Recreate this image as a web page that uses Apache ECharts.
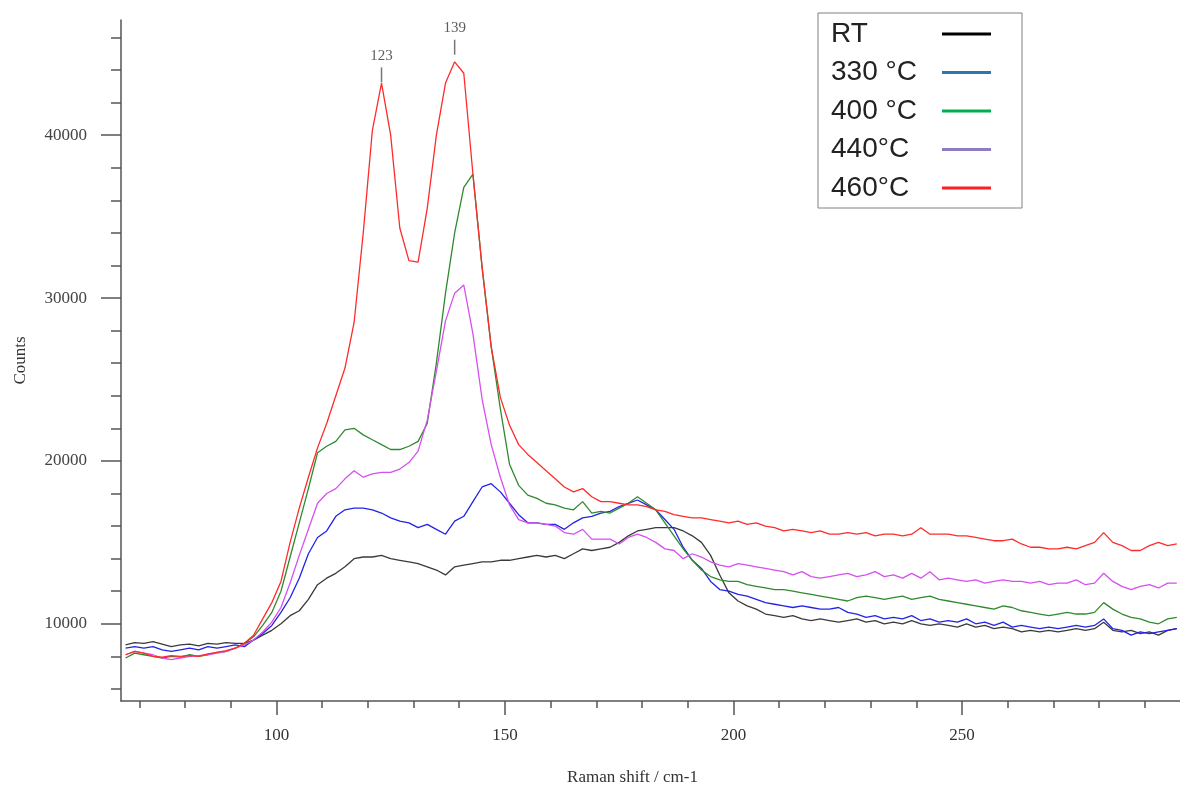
<!DOCTYPE html>
<html><head><meta charset="utf-8">
<script src="https://cdn.jsdelivr.net/npm/echarts@6/dist/echarts.min.js"></script>
<style>html,body{margin:0;padding:0;background:#fff}#c{width:1180px;height:791px}</style>
</head><body><div id="c"></div>
<script>
// Raman shift sampling (cm-1)
const ramanShift = [
  67,69,71,73,75,77,79,81,83,85,
  87,89,91,93,95,97,99,101,103,105,
  107,109,111,113,115,117,119,121,123,125,
  127,129,131,133,135,137,139,141,143,145,
  147,149,151,153,155,157,159,161,163,165,
  167,169,171,173,175,177,179,181,183,185,
  187,189,191,193,195,197,199,201,203,205,
  207,209,211,213,215,217,219,221,223,225,
  227,229,231,233,235,237,239,241,243,245,
  247,249,251,253,255,257,259,261,263,265,
  267,269,271,273,275,277,279,281,283,285,
  287,289,291,293,295,297
];
const countsRT = [
  8700,8850,8800,8900,8750,8600,8700,8750,8650,8800,
  8750,8850,8800,8800,9000,9300,9600,10000,10500,10800,
  11500,12400,12800,13100,13500,14000,14100,14100,14200,14000,
  13900,13800,13700,13500,13300,13000,13500,13600,13700,13800,
  13800,13900,13900,14000,14100,14200,14100,14200,14000,14300,
  14600,14500,14600,14700,15000,15400,15700,15800,15900,15900,
  15900,15700,15400,15000,14200,13000,11900,11400,11100,10900,
  10600,10500,10400,10500,10300,10200,10300,10200,10100,10200,
  10300,10100,10200,10000,10100,10000,10200,10000,9900,10000,
  9900,9800,10000,9800,9900,9700,9800,9700,9500,9600,
  9500,9600,9500,9600,9700,9600,9700,10100,9600,9500,
  9600,9400,9500,9300,9600,9700
];
const counts330 = [
  8500,8600,8500,8600,8400,8300,8400,8500,8400,8600,
  8500,8600,8700,8600,9000,9400,9900,10700,11600,12800,
  14300,15300,15700,16600,17000,17100,17100,17000,16800,16500,
  16300,16200,15900,16100,15800,15500,16300,16600,17500,18400,
  18600,18100,17400,16700,16200,16200,16100,16100,15800,16200,
  16500,16600,16800,16900,17200,17400,17600,17300,17000,16400,
  15800,14700,13900,13400,12600,12100,12000,11800,11700,11500,
  11300,11200,11100,11000,11100,11000,10900,10900,11000,10700,
  10600,10400,10500,10300,10400,10300,10500,10200,10300,10100,
  10200,10100,10300,10000,10100,9900,10100,9800,9900,9800,
  9700,9800,9700,9800,9900,9800,9900,10300,9700,9600,
  9300,9500,9400,9500,9600,9700
];
const counts400 = [
  7900,8200,8100,8000,7900,8000,7950,8100,8000,8100,
  8250,8300,8500,8800,9200,9900,10700,12000,14100,16200,
  18300,20500,20900,21200,21900,22000,21600,21300,21000,20700,
  20700,20900,21200,22300,26000,30300,34000,36800,37600,31900,
  27000,23200,19800,18500,17900,17700,17400,17300,17100,17000,
  17500,16800,16900,16800,17100,17400,17800,17400,17000,16200,
  15400,14600,13900,13300,12900,12700,12600,12600,12400,12300,
  12200,12100,12100,12000,11900,11800,11700,11600,11500,11400,
  11600,11700,11600,11500,11600,11700,11500,11600,11700,11500,
  11400,11300,11200,11100,11000,10900,11100,11000,10800,10700,
  10600,10500,10600,10700,10600,10600,10700,11300,10900,10600,
  10400,10300,10100,10000,10300,10400
];
const counts440 = [
  8100,8300,8200,8100,7900,7800,7900,8000,8050,8100,
  8200,8300,8500,8700,9000,9500,10100,11000,12500,14200,
  15800,17400,18000,18300,18900,19400,19000,19200,19300,19300,
  19500,19900,20600,22500,25500,28600,30300,30800,27800,23800,
  21000,19000,17300,16400,16200,16200,16100,16000,15600,15500,
  15800,15200,15200,15200,14900,15300,15500,15300,15000,14600,
  14500,14000,14300,14100,13800,13600,13500,13700,13600,13500,
  13400,13300,13200,13000,13200,12900,12800,12900,13000,13100,
  12900,13000,13200,12900,13000,12800,13100,12800,13200,12700,
  12800,12700,12600,12700,12500,12600,12700,12600,12600,12500,
  12600,12400,12500,12500,12700,12400,12500,13100,12600,12300,
  12100,12300,12400,12200,12500,12500
];
const counts460 = [
  8100,8300,8200,8000,7950,8050,8000,8050,8000,8150,
  8250,8350,8500,8800,9300,10300,11300,12600,15000,17100,
  19000,20800,22300,24000,25700,28500,34000,40300,43200,40000,
  34300,32300,32200,35500,40000,43200,44500,43800,37600,31900,
  27000,23900,22200,21000,20400,19900,19400,18900,18400,18100,
  18300,17800,17500,17500,17400,17300,17300,17200,17000,16900,
  16700,16600,16500,16500,16400,16300,16200,16300,16100,16200,
  16000,15900,15700,15800,15700,15600,15700,15500,15500,15600,
  15500,15600,15400,15500,15500,15400,15500,15900,15500,15500,
  15500,15400,15400,15300,15200,15100,15100,15200,14900,14700,
  14700,14600,14600,14700,14600,14800,15000,15600,15000,14800,
  14500,14500,14800,15000,14800,14900
];
const seriesNames = ['RT', '330 °C', '400 °C', '440°C', '460°C'];
const peakShift = [123, 139];
const peakMarkCounts = [43700, 45400];
const yMajorTicks = [10000, 20000, 30000, 40000];
const yMinorTicks = [6000,8000,10000,12000,14000,16000,18000,20000,22000,24000,26000,28000,30000,32000,34000,36000,38000,40000,42000,44000,46000];
const xMajorTicks = [100, 150, 200, 250];
const xMinorTicks = [70,80,90,100,110,120,130,140,150,160,170,180,190,200,210,220,230,240,250,260,270,280,290];

const allCounts = [countsRT, counts330, counts400, counts440, counts460];
const lineColors = ['#3a3a3a', '#2323e8', '#2f8a2f', '#d64ff0', '#ff2b2b'];
const legendColors = ['#000000', '#2e75b6', '#00b050', '#8e7cc3', '#ff1f1f'];
const axisColor = '#555';
const serif = 'Liberation Serif';

const chart = echarts.init(document.getElementById('c'), null, {renderer: 'canvas'});

const lineSeries = seriesNames.map((name, k) => ({
  type: 'line',
  name: name,
  data: ramanShift.map((x, i) => [x, allCounts[k][i]]),
  showSymbol: false,
  symbol: 'none',
  lineStyle: {width: 1.3, color: lineColors[k]},
  itemStyle: {color: lineColors[k]},
  xAxisIndex: 0, yAxisIndex: 0,
  animation: false,
  silent: true
}));

const peakSeries = {
  type: 'scatter',
  name: 'peaks',
  data: peakShift.map((x, i) => [x, peakMarkCounts[i]]),
  symbol: 'rect',
  symbolSize: [1.5, 15],
  itemStyle: {color: '#555'},
  label: {
    show: true, position: 'top', distance: 4,
    formatter: p => String(p.value[0]),
    fontFamily: serif, fontSize: 15, color: '#333'
  },
  xAxisIndex: 0, yAxisIndex: 0,
  silent: true, animation: false, z: 5
};

const option = {
  backgroundColor: '#ffffff',
  animation: false,
  grid: {left: 121, top: 20, right: 0, bottom: 85, containLabel: false},
  legend: {
    orient: 'vertical', left: 818, top: 13,
    padding: [7, 31, 6, 13], itemGap: 10.5,
    align: 'right', icon: 'rect', itemWidth: 49, itemHeight: 3,
    backgroundColor: '#fff', borderColor: '#808080', borderWidth: 1,
    selectedMode: false,
    formatter: name => '{t|' + name + '}',
    textStyle: {rich: {t: {width: 106, align: 'left', fontFamily: 'Liberation Sans', fontSize: 28, lineHeight: 28, color: '#222'}}},
    data: seriesNames.map((n, i) => ({name: n, itemStyle: {color: legendColors[i]}}))
  },
  xAxis: [
    {
      type: 'value', min: 66, max: 297.7, position: 'bottom',
      axisLine: {show: true, onZero: false, lineStyle: {color: axisColor, width: 1.5}},
      axisTick: {show: true, customValues: xMajorTicks, length: 14, lineStyle: {color: axisColor, width: 1.5}},
      axisLabel: {customValues: xMajorTicks, margin: 26, fontFamily: serif, fontSize: 17, color: '#333', formatter: v => String(v)},
      splitLine: {show: false},
      name: 'Raman shift / cm-1', nameLocation: 'middle', nameGap: 68,
      nameTextStyle: {fontFamily: serif, fontSize: 17, color: '#333', padding: [0, 36, 0, 0]}
    },
    {
      type: 'value', min: 66, max: 297.7, position: 'bottom',
      axisLine: {show: false, onZero: false},
      axisTick: {show: true, customValues: xMinorTicks, length: 7, lineStyle: {color: axisColor, width: 1.5}},
      axisLabel: {show: false},
      splitLine: {show: false}
    }
  ],
  yAxis: [
    {
      type: 'value', min: 5260, max: 47070, position: 'left',
      axisLine: {show: true, onZero: false, lineStyle: {color: axisColor, width: 1.5}},
      axisTick: {show: true, customValues: yMajorTicks, length: 20, lineStyle: {color: axisColor, width: 1.5}},
      axisLabel: {customValues: yMajorTicks, margin: 34, fontFamily: serif, fontSize: 17, color: '#444', formatter: v => String(v)},
      splitLine: {show: false},
      name: 'Counts', nameLocation: 'middle', nameGap: 92, nameRotate: 90,
      nameTextStyle: {fontFamily: serif, fontSize: 17, color: '#333'}
    },
    {
      type: 'value', min: 5260, max: 47070, position: 'left',
      axisLine: {show: false, onZero: false},
      axisTick: {show: true, customValues: yMinorTicks, length: 10, lineStyle: {color: axisColor, width: 1.5}},
      axisLabel: {show: false},
      splitLine: {show: false}
    }
  ],
  series: lineSeries.concat([peakSeries])
};
chart.setOption(option);
</script>
</body></html>
